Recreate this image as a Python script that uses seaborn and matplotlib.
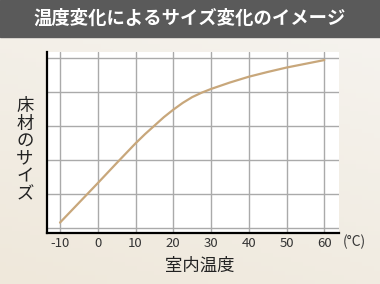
import numpy as np
import pandas as pd
import matplotlib
matplotlib.use("Agg")
import matplotlib.pyplot as plt
import seaborn as sns
from matplotlib.patches import Rectangle

temps = [-10, -5, 0, 5, 10, 12.5, 15, 17.5, 20, 22.5, 25, 27.5, 30, 35, 40, 45, 50, 55, 60]
sizes = [0.15, 0.73, 1.31, 1.90, 2.48, 2.75, 3.00, 3.25, 3.47, 3.67, 3.84, 3.97, 4.08, 4.27, 4.44, 4.58, 4.71, 4.82, 4.93]
xticks = [-10, 0, 10, 20, 30, 40, 50, 60]
yticks = [0, 1, 2, 3, 4, 5]
title = "温度変化によるサイズ変化のイメージ"
ylabel = "床材のサイズ"
xlabel = "室内温度"
unit = "(°C)"

sns.set_theme(style="white")
plt.rcParams['font.family'] = ['Noto Sans CJK JP', 'DejaVu Sans']

W, H = 380, 284
fig = plt.figure(figsize=(W / 100, H / 100), dpi=100)

# background gradient
bg = fig.add_axes([0, 0, 1, 1], zorder=-10)
gx = np.linspace(0, 1, 64)
gy = np.linspace(0, 1, 64)
GX, GY = np.meshgrid(gx, gy)
t = (GY * 0.7 + (1 - GX) * 0.3)
c0 = np.array([0xf6, 0xf4, 0xf0]) / 255
c1 = np.array([0xef, 0xe8, 0xdb]) / 255
img = c0[None, None, :] * (1 - t[..., None]) + c1[None, None, :] * t[..., None]
bg.imshow(img, extent=[0, 1, 0, 1], aspect='auto', origin='upper')
bg.set_xlim(0, 1)
bg.set_ylim(0, 1)
bg.axis('off')
# title bar
bg.add_patch(Rectangle((0, 1 - 37 / H), 1, 37 / H, color='#5a5a5a', transform=bg.transAxes, zorder=2))
fig.text(0.5, 1 - 18.5 / H, title, color='white', fontsize=13.2, fontweight='bold',
         ha='center', va='center')

ax = fig.add_axes([46.7 / W, 1 - 232.7 / H, (338.5 - 46.7) / W, (232.7 - 51.7) / H])
ax.set_facecolor('white')
df = pd.DataFrame({"temp": temps, "size": sizes})
sns.lineplot(data=df, x="temp", y="size", ax=ax, color='#c8a77b', linewidth=1.6)

ax.set_xlim(-13.52, 63.76)
ax.set_ylim(-0.147, 5.176)
ax.set_xticks(xticks)
ax.set_xticklabels([str(v) for v in xticks], fontsize=9.5, color='#333333')
ax.set_yticks(yticks)
ax.set_yticklabels([])
ax.tick_params(axis='both', length=0, pad=3)
ax.grid(True, color='#aaaaaa', linewidth=1.0)
ax.set_axisbelow(True)
for s in ['top', 'right']:
    ax.spines[s].set_visible(False)
for s in ['left', 'bottom']:
    ax.spines[s].set_color('black')
    ax.spines[s].set_linewidth(1.6)
ax.set_xlabel("")
ax.set_ylabel("")

fig.text(200 / W, 1 - 266 / H, xlabel, fontsize=12.5, color='#222222', ha='center', va='center')
fig.text(354 / W, 1 - 242 / H, unit, fontsize=10, color='#333333', ha='center', va='center')
fig.text(25 / W, 1 - 150 / H, "\n".join(ylabel), fontsize=12.5, color='#222222',
         ha='center', va='center', linespacing=0.97)

fig.savefig("out.png", dpi=100)
